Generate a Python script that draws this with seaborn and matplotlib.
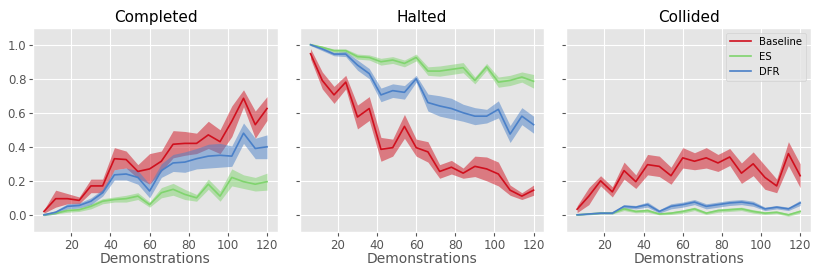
import numpy as np
import pandas as pd
import matplotlib
matplotlib.use("Agg")
import matplotlib.pyplot as plt
import seaborn as sns

# --- data ---
demos = list(range(6, 121, 6))
methods = ["Baseline", "ES", "DFR"]
panels = ["Completed", "Halted", "Collided"]

completed_baseline = [0.02, 0.095, 0.095, 0.085, 0.17, 0.17, 0.33, 0.325, 0.255, 0.27,
                      0.315, 0.415, 0.42, 0.42, 0.47, 0.43, 0.55, 0.685, 0.53, 0.625]
completed_es = [0.0, 0.01, 0.025, 0.03, 0.05, 0.08, 0.09, 0.095, 0.11, 0.06,
                0.13, 0.15, 0.12, 0.10, 0.18, 0.11, 0.22, 0.195, 0.18, 0.195]
completed_dfr = [0.0, 0.015, 0.05, 0.055, 0.08, 0.13, 0.235, 0.24, 0.22, 0.14,
                 0.26, 0.305, 0.31, 0.33, 0.345, 0.35, 0.345, 0.48, 0.39, 0.40]

halted_baseline = [0.947, 0.79, 0.705, 0.78, 0.575, 0.625, 0.385, 0.395, 0.52, 0.395,
                   0.37, 0.255, 0.28, 0.245, 0.285, 0.27, 0.24, 0.145, 0.11, 0.145]
halted_es = [1.0, 0.985, 0.965, 0.965, 0.93, 0.925, 0.90, 0.91, 0.89, 0.925,
             0.845, 0.845, 0.855, 0.865, 0.79, 0.87, 0.78, 0.79, 0.81, 0.785]
halted_dfr = [1.0, 0.975, 0.945, 0.945, 0.88, 0.83, 0.705, 0.73, 0.72, 0.80,
              0.66, 0.64, 0.625, 0.60, 0.58, 0.58, 0.62, 0.475, 0.58, 0.53]

collided_baseline = [0.033, 0.11, 0.20, 0.135, 0.26, 0.195, 0.295, 0.285, 0.23, 0.335,
                     0.315, 0.335, 0.305, 0.34, 0.245, 0.30, 0.22, 0.17, 0.36, 0.23]
collided_es = [0.0, 0.005, 0.01, 0.01, 0.035, 0.02, 0.025, 0.005, 0.01, 0.02,
               0.035, 0.01, 0.025, 0.03, 0.035, 0.02, 0.01, 0.015, 0.0, 0.02]
collided_dfr = [0.0, 0.005, 0.01, 0.01, 0.05, 0.045, 0.06, 0.02, 0.05, 0.06,
                0.075, 0.05, 0.06, 0.07, 0.075, 0.065, 0.035, 0.045, 0.035, 0.07]

# half-widths of the shaded bands
completed_baseline_err = [0.01, 0.05, 0.03, 0.02, 0.04, 0.04, 0.065, 0.05, 0.04, 0.09,
                          0.06, 0.08, 0.07, 0.06, 0.08, 0.07, 0.09, 0.05, 0.08, 0.07]
completed_es_err = [0.005, 0.005, 0.01, 0.01, 0.015, 0.015, 0.015, 0.02, 0.02, 0.015,
                    0.03, 0.035, 0.03, 0.02, 0.03, 0.03, 0.05, 0.04, 0.04, 0.05]
completed_dfr_err = [0.005, 0.01, 0.015, 0.015, 0.02, 0.02, 0.03, 0.035, 0.04, 0.04,
                     0.04, 0.05, 0.06, 0.06, 0.07, 0.07, 0.06, 0.06, 0.06, 0.07]

halted_baseline_err = [0.03, 0.05, 0.05, 0.04, 0.07, 0.07, 0.07, 0.05, 0.07, 0.05,
                       0.06, 0.04, 0.04, 0.03, 0.06, 0.07, 0.07, 0.03, 0.02, 0.03]
halted_es_err = [0.005, 0.005, 0.01, 0.01, 0.015, 0.015, 0.02, 0.02, 0.02, 0.02,
                 0.025, 0.03, 0.03, 0.03, 0.02, 0.02, 0.03, 0.03, 0.03, 0.04]
halted_dfr_err = [0.005, 0.01, 0.01, 0.015, 0.03, 0.03, 0.04, 0.04, 0.04, 0.02,
                  0.05, 0.06, 0.06, 0.05, 0.05, 0.04, 0.05, 0.05, 0.05, 0.05]

collided_baseline_err = [0.02, 0.05, 0.03, 0.03, 0.05, 0.04, 0.06, 0.06, 0.05, 0.06,
                         0.05, 0.06, 0.05, 0.05, 0.06, 0.07, 0.07, 0.04, 0.07, 0.07]
collided_es_err = [0.003, 0.003, 0.005, 0.005, 0.01, 0.008, 0.01, 0.005, 0.008, 0.01,
                   0.01, 0.008, 0.01, 0.01, 0.01, 0.01, 0.008, 0.008, 0.008, 0.01]
collided_dfr_err = [0.003, 0.005, 0.005, 0.005, 0.01, 0.01, 0.015, 0.01, 0.015, 0.015,
                    0.015, 0.015, 0.015, 0.015, 0.015, 0.015, 0.01, 0.01, 0.01, 0.015]

means = {
    "Completed": [completed_baseline, completed_es, completed_dfr],
    "Halted": [halted_baseline, halted_es, halted_dfr],
    "Collided": [collided_baseline, collided_es, collided_dfr],
}
errs = {
    "Completed": [completed_baseline_err, completed_es_err, completed_dfr_err],
    "Halted": [halted_baseline_err, halted_es_err, halted_dfr_err],
    "Collided": [collided_baseline_err, collided_es_err, collided_dfr_err],
}

COLORS = {"Baseline": "#d0101e", "ES": "#80d46e", "DFR": "#4a80c8"}

rows = []
for panel in panels:
    for m, vals, ers in zip(methods, means[panel], errs[panel]):
        for d, v, e in zip(demos, vals, ers):
            rows.append({"panel": panel, "method": m, "demos": d,
                         "value": v, "lo": v - e, "hi": v + e})
df = pd.DataFrame(rows)

plt.style.use("ggplot")
plt.rcParams.update({
    "font.family": "DejaVu Sans",
    "xtick.labelsize": 8.5,
    "ytick.labelsize": 8.5,
    "xtick.color": "#555555",
    "ytick.color": "#555555",
})

fig, axes = plt.subplots(1, 3, figsize=(8.3, 2.77), dpi=100, sharey=True)
fig.subplots_adjust(left=0.04, right=0.977, top=0.9, bottom=0.163, wspace=0.09)

for ax, panel in zip(axes, panels):
    sub = df[df["panel"] == panel]
    for m in methods:
        s = sub[sub["method"] == m]
        ax.fill_between(s["demos"], s["lo"], s["hi"], color=COLORS[m],
                        alpha=0.5, linewidth=0)
    sns.lineplot(data=sub, x="demos", y="value", hue="method", hue_order=methods,
                 palette=COLORS, linewidth=1.2, errorbar=None, ax=ax,
                 legend=(panel == "Collided"))
    ax.set_title(panel, fontsize=11, color="black", pad=4)
    ax.set_xlabel("Demonstrations", fontsize=10, color="#555555", labelpad=0)
    ax.set_ylabel("")
    ax.set_xlim(0.5, 125.5)
    ax.set_xticks([20, 40, 60, 80, 100, 120])
    ax.set_ylim(-0.1, 1.1)
    ax.set_yticks([0.0, 0.2, 0.4, 0.6, 0.8, 1.0])
    ax.tick_params(length=3, pad=2)

axes[0].set_yticklabels(["0.0", "0.2", "0.4", "0.6", "0.8", "1.0"])
leg = axes[2].legend(loc="upper right", fontsize=7.3, title=None)

fig.savefig("out.png", dpi=100)
